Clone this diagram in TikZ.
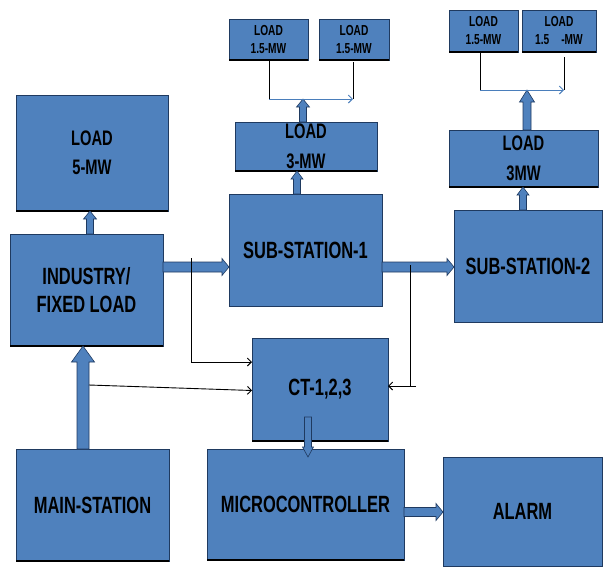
\documentclass[tikz,border=0pt]{standalone}
\usepackage{fontspec}
\newfontfamily\nar{Liberation Sans}[FakeStretch=0.7]
\usetikzlibrary{calc,arrows.meta}
\definecolor{boxblue}{HTML}{4F81BD}
\definecolor{boxline}{HTML}{1F3A60}
\definecolor{lineblue}{HTML}{4A7EBB}
\tikzset{
  box/.style={rectangle, fill=boxblue, draw=boxline, line width=0.7pt, inner sep=0pt, outer sep=0pt, align=center, text=black},
  bigtxt/.style={font=\nar\bfseries\fontsize{23.5}{28.5}\selectfont},
  midtxt/.style={font=\nar\bfseries\fontsize{21}{29.5}\selectfont},
  regtxt/.style={font=\nar\bfseries\fontsize{21}{29}\selectfont},
  smalltxt/.style={font=\nar\bfseries\fontsize{14.5}{18}\selectfont},
  bottomedge/.style={line width=2.2pt, black},
  blockarrow/.style={fill=boxblue, draw=boxline, line width=0.6pt, line join=miter},
  thinline/.style={line width=0.9pt, black},
  tip/.style={-{Straight Barb[length=4pt,width=8pt]}},
}
\newcommand{\blkarrow}[5]{%
  \path ($(#2)!#5!(#1)$) coordinate (bh);
  \draw[blockarrow] ($(#1)!#3!90:(#2)$) -- ($(bh)!#3!90:(#2)$) -- ($(bh)!#4!90:(#2)$) -- (#2)
    -- ($(bh)!#4!-90:(#2)$) -- ($(bh)!#3!-90:(#2)$) -- ($(#1)!#3!-90:(#2)$) -- cycle;}
\begin{document}
\begin{tikzpicture}[x=1pt,y=-1pt]
\useasboundingbox (0,0) rectangle (603,566);
% boxes
\node[box, smalltxt, minimum width=79pt, minimum height=41pt] (la) at (268.5,39.5) {LOAD\\1.5-MW};
\node[box, smalltxt, minimum width=70pt, minimum height=41pt] (lb) at (354,39.5) {LOAD\\1.5-MW};
\node[box, smalltxt, minimum width=69pt, minimum height=42pt] (lc) at (483.5,31) {LOAD\\1.5-MW};
\node[box, smalltxt, minimum width=74pt, minimum height=42pt] (ld) at (559,31) {LOAD\\1.5\hspace{12pt}-MW};
\node[box, midtxt, minimum width=142pt, minimum height=49pt] (l3a) at (306,146.5) {\raisebox{1pt}{LOAD}\\3-MW};
\node[box, bigtxt, minimum width=153pt, minimum height=112pt] (ss1) at (305.5,250) {SUB-STATION-1};
\node[box, midtxt, minimum width=149pt, minimum height=57pt] (l3b) at (523.5,158.5) {LOAD\\3MW};
\node[box, bigtxt, minimum width=148pt, minimum height=112pt] (ss2) at (528,266) {SUB-STATION-2};
\node[box, regtxt, minimum width=152pt, minimum height=116pt] (l5) at (92,153) {LOAD\\5-MW};
\node[box, bigtxt, minimum width=153pt, minimum height=112pt] (ind) at (86.5,290) {INDUSTRY/\\FIXED LOAD};
\node[box, bigtxt, minimum width=153pt, minimum height=112pt] (main) at (92.5,505) {MAIN-STATION};
\node[box, bigtxt, minimum width=136pt, minimum height=103pt] (ct) at (320,389.5) {CT-1,2,3};
\node[box, bigtxt, minimum width=197pt, minimum height=111pt] (mc) at (305.5,504.5) {MICROCONTROLLER};
\node[box, bigtxt, minimum width=159pt, minimum height=109pt] (alarm) at (522.5,511.5) {ALARM};
% thick bottom edges
\foreach \b in {la,lb,lc,ld,l3a,l3b,l5,ind,ct,main,mc}
  \draw[bottomedge] (\b.south west) -- (\b.south east);
% junction coordinates
\coordinate (j1) at (269,99);
\coordinate (j2) at (353,99);
\coordinate (t1) at (303,99);
\coordinate (j3) at (480,90);
\coordinate (j4) at (564,90);
\coordinate (t2) at (527,90);
\coordinate (k1) at (191,258);
\coordinate (k2) at (89,385);
\coordinate (k3) at (410,265);
\coordinate (k4) at (416,386);
% block arrows
\blkarrow{$(l3a.north)+(-3,0)$}{t1}{3.5pt}{6.5pt}{8pt}
\blkarrow{$(ss1.north)+(-8.5,0)$}{$(l3a.south)+(-9,0)$}{3.5pt}{6pt}{8pt}
\blkarrow{$(ss2.north)+(-5,0)$}{$(l3b.south)+(-0.5,0)$}{3.5pt}{6pt}{8pt}
\blkarrow{$(l3b.north)+(3.5,0)$}{t2}{4pt}{7.5pt}{12pt}
\blkarrow{$(ind.north)+(3.5,0)$}{$(l5.south)+(-2,0)$}{3.5pt}{6.5pt}{8pt}
\blkarrow{$(main.north)+(-9.5,0)$}{$(ind.south)+(-3.5,0)$}{6pt}{11.5pt}{16pt}
\blkarrow{$(ind.east)+(0,-23)$}{$(ss1.west)+(0,17)$}{5pt}{8.5pt}{7pt}
\blkarrow{$(ss1.east)+(0,17)$}{$(ss2.west)+(0,1)$}{5pt}{8.5pt}{7pt}
\blkarrow{$(ct.south)+(-12,-24)$}{$(mc.north)+(2.5,8)$}{3.5pt}{5.5pt}{10pt}
\blkarrow{$(mc.east)+(0,7.5)$}{$(alarm.west)+(0,0.5)$}{4.5pt}{8.5pt}{7pt}
% thin connectors at top
\draw[thinline] (j1 |- la.south) -- (j1);
\draw[lineblue, line width=1pt, tip] (j1) -- (j2);
\draw[thinline] ($(j2 |- lb.south)+(0,2)$) -- (j2);
\draw[thinline] (j3 |- lc.south) -- (j3);
\draw[lineblue, line width=1pt, tip] (j3) -- (j4);
\draw[thinline] ($(j4 |- ld.south)+(0,5)$) -- (j4);
% CT connectors
\draw[thinline, tip] (k1) |- ($(ct.west)+(0,-27.5)$);
\draw[thinline, tip] (k2) -- ($(ct.west)+(0,1)$);
\draw[thinline] (k3) |- (k4);
\draw[thinline, tip] (k4) -- ($(ct.east)+(0,-3.5)$);
\end{tikzpicture}
\end{document}
